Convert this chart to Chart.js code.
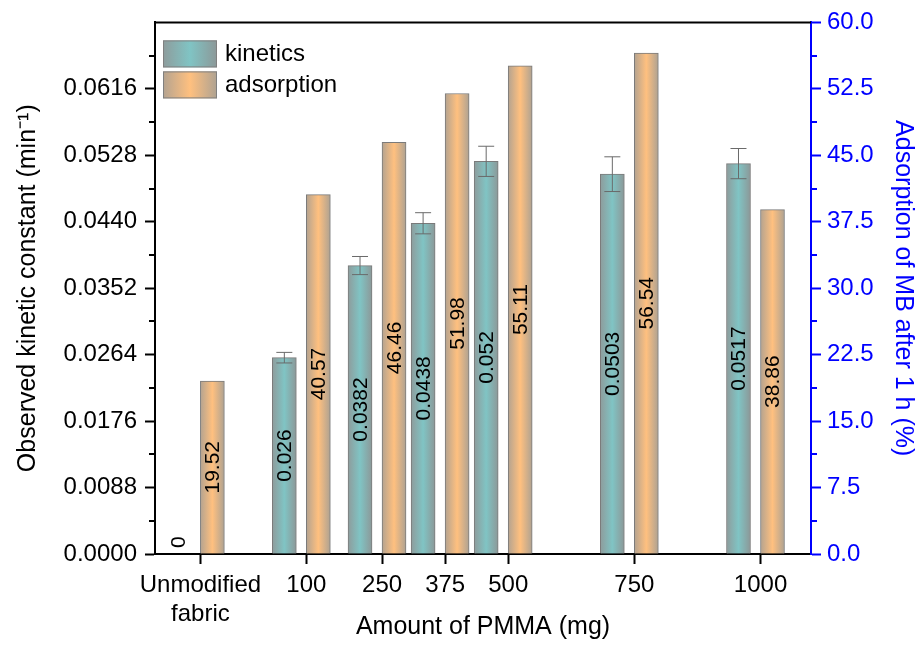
<!DOCTYPE html>
<html>
<head>
<meta charset="utf-8">
<script src="https://cdn.jsdelivr.net/npm/chart.js@4.4.1/dist/chart.umd.min.js"></script>
<style>
  html, body { margin: 0; padding: 0; background: #fff; }
</style>
</head>
<body>
<canvas id="chart" width="924" height="645"></canvas>
<script>
// amounts of PMMA (x positions on the linear axis) and their tick labels
var pmmaPos = [-110, 100, 250, 375, 500, 750, 1000];
var pmmaLabels = [['Unmodified', 'fabric'], '100', '250', '375', '500', '750', '1000'];

// observed kinetic constant (min-1) with error, and adsorption after 1 h (%)
var kinetics = [0, 0.026, 0.0382, 0.0438, 0.052, 0.0503, 0.0517];
var kineticsErr = [0, 0.0007, 0.0012, 0.0014, 0.002, 0.0023, 0.002];
var adsorption = [19.52, 40.57, 46.46, 51.98, 55.11, 56.54, 38.86];

var FONT = "'Liberation Sans', Arial, sans-serif";
var BLUE = '#0000ff';

var kinColors = ['#8e9c9c', '#80c4c4', '#8c9898'];
var adsColors = ['#b4a390', '#ffc07f', '#aea292'];

function toPoints(vals) {
    var pts = [];
    for (var i = 0; i < vals.length; i++) {
        pts.push({ x: pmmaPos[i], y: vals[i] });
    }
    return pts;
}

function gradientFor(ctx, x0, x1, cols) {
    var g = ctx.createLinearGradient(x0, 0, x1, 0);
    g.addColorStop(0, cols[0]);
    g.addColorStop(0.5, cols[1]);
    g.addColorStop(1, cols[2]);
    return g;
}

// horizontal gradient fill on every bar
var barGradient = {
    id: 'barGradient',
    beforeDatasetsDraw: function (chart) {
        var ctx = chart.ctx;
        chart.data.datasets.forEach(function (ds, di) {
            var meta = chart.getDatasetMeta(di);
            meta.data.forEach(function (el) {
                var g = gradientFor(ctx, el.x - el.width / 2, el.x + el.width / 2, ds.gradColors);
                el.options = Object.assign({}, el.options, { backgroundColor: g });
            });
        });
    }
};

// error bars, value labels, minor ticks, frame and legend
var extras = {
    id: 'extras',
    afterDatasetsDraw: function (chart) {
        var ctx = chart.ctx;
        var y = chart.scales.y;

        // error bars on kinetics
        var kMeta = chart.getDatasetMeta(0);
        ctx.save();
        ctx.strokeStyle = '#6a6a6a';
        ctx.lineWidth = 1;
        kMeta.data.forEach(function (el, i) {
            var e = kineticsErr[i];
            if (!e) return;
            var top = y.getPixelForValue(kinetics[i] + e);
            var bot = y.getPixelForValue(kinetics[i] - e);
            ctx.beginPath();
            ctx.moveTo(el.x, top);
            ctx.lineTo(el.x, bot);
            ctx.moveTo(el.x - 8, top);
            ctx.lineTo(el.x + 8, top);
            ctx.moveTo(el.x - 8, bot);
            ctx.lineTo(el.x + 8, bot);
            ctx.stroke();
        });
        ctx.restore();

        // rotated value labels
        ctx.save();
        ctx.font = '21px ' + FONT;
        ctx.fillStyle = '#000';
        ctx.textAlign = 'center';
        ctx.textBaseline = 'middle';
        chart.data.datasets.forEach(function (ds, di) {
            var meta = chart.getDatasetMeta(di);
            meta.data.forEach(function (el, i) {
                var txt = ds.labelText(ds.data[i].y);
                var tw = ctx.measureText(txt).width;
                var h = Math.abs(el.base - el.y);
                var cy = h < tw + 10 ? el.base - 6 - tw / 2 : (el.y + el.base) / 2;
                ctx.save();
                ctx.translate(el.x, cy);
                ctx.rotate(-Math.PI / 2);
                ctx.fillText(txt, 0, 1);
                ctx.restore();
            });
        });
        ctx.restore();
    },
    afterDraw: function (chart) {
        var ctx = chart.ctx;
        var a = chart.chartArea;
        var y = chart.scales.y, y2 = chart.scales.y2;
        ctx.save();

        // top frame
        ctx.strokeStyle = '#000';
        ctx.lineWidth = 2;
        ctx.beginPath();
        ctx.moveTo(a.left - 1, a.top);
        ctx.lineTo(a.right, a.top);
        ctx.stroke();

        // minor ticks
        ctx.beginPath();
        for (var v = 0.0044; v < 0.0704; v += 0.0088) {
            var p = Math.round(y.getPixelForValue(v));
            ctx.moveTo(a.left, p);
            ctx.lineTo(a.left - 6, p);
        }
        ctx.stroke();
        ctx.strokeStyle = BLUE;
        ctx.beginPath();
        for (var w = 3.75; w < 60; w += 7.5) {
            var q = Math.round(y2.getPixelForValue(w));
            ctx.moveTo(a.right, q);
            ctx.lineTo(a.right + 6, q);
        }
        ctx.stroke();

        // legend
        var bx = a.left + 8, by = a.top + 18;
        ctx.font = '24px ' + FONT;
        ctx.textBaseline = 'middle';
        ctx.textAlign = 'left';
        chart.data.datasets.forEach(function (ds, di) {
            var top = by + di * 31;
            ctx.fillStyle = gradientFor(ctx, bx, bx + 54, ds.gradColors);
            ctx.fillRect(bx, top, 54, 27);
            ctx.strokeStyle = '#808080';
            ctx.lineWidth = 1;
            ctx.strokeRect(bx + 0.5, top + 0.5, 53, 26);
            ctx.fillStyle = '#000';
            ctx.fillText(ds.label, bx + 62, top + 14);
        });
        ctx.restore();
    }
};

new Chart(document.getElementById('chart'), {
    type: 'bar',
    data: {
        datasets: [
            {
                label: 'kinetics',
                data: toPoints(kinetics),
                xAxisID: 'xb',
                yAxisID: 'y',
                gradColors: kinColors,
                backgroundColor: kinColors[1],
                labelText: function (v) { return String(v); }
            },
            {
                label: 'adsorption',
                data: toPoints(adsorption),
                xAxisID: 'xb',
                yAxisID: 'y2',
                gradColors: adsColors,
                backgroundColor: adsColors[1],
                labelText: function (v) { return v.toFixed(2); }
            }
        ]
    },
    options: {
        responsive: false,
        animation: false,
        layout: { padding: { top: 22, left: 0, right: 0, bottom: 0 } },
        datasets: {
            bar: {
                barThickness: 34,
                maxBarThickness: 24,
                borderWidth: 1,
                borderColor: '#7a7a7a'
            }
        },
        plugins: {
            legend: { display: false },
            tooltip: { enabled: false }
        },
        scales: {
            xb: {
                type: 'linear',
                display: false,
                offset: false,
                min: -190,
                max: 1110
            },
            x: {
                type: 'linear',
                position: 'bottom',
                offset: false,
                min: -200,
                max: 1100,
                afterBuildTicks: function (s) {
                    s.ticks = pmmaPos.map(function (v) { return { value: v }; });
                },
                afterFit: function (s) { s.height = 91; },
                ticks: {
                    autoSkip: false,
                    maxRotation: 0,
                    padding: 7,
                    color: '#000',
                    font: { family: FONT, size: 24 },
                    callback: function (v) {
                        var i = pmmaPos.indexOf(v);
                        return i < 0 ? '' : pmmaLabels[i];
                    }
                },
                grid: {
                    offset: false,
                    drawOnChartArea: false,
                    tickLength: 10,
                    tickWidth: 2,
                    tickColor: '#000'
                },
                border: { color: '#000', width: 2 },
                title: {
                    display: true,
                    text: 'Amount of PMMA (mg)',
                    color: '#000',
                    font: { family: FONT, size: 25 },
                    padding: { top: 0, bottom: 3 }
                }
            },
            y: {
                type: 'linear',
                position: 'left',
                min: 0,
                max: 0.0704,
                afterFit: function (s) { s.width = 155; },
                ticks: {
                    stepSize: 0.0088,
                    padding: 8,
                    color: '#000',
                    font: { family: FONT, size: 24 },
                    callback: function (v) { return v > 0.07 ? '' : v.toFixed(4); }
                },
                grid: {
                    drawOnChartArea: false,
                    tickLength: 10,
                    tickWidth: 2,
                    tickColor: function (c) {
                        return c.tick && c.tick.value > 0.07 ? 'rgba(0,0,0,0)' : '#000';
                    }
                },
                border: { color: '#000', width: 2 },
                title: {
                    display: true,
                    text: 'Observed kinetic constant (min\u207B\u00B9)',
                    color: '#000',
                    font: { family: FONT, size: 25 },
                    padding: { top: 13, bottom: 0 }
                }
            },
            y2: {
                type: 'linear',
                position: 'right',
                min: 0,
                max: 60,
                afterFit: function (s) { s.width = 113; },
                ticks: {
                    stepSize: 7.5,
                    padding: 6,
                    color: BLUE,
                    font: { family: FONT, size: 24 },
                    callback: function (v) { return v.toFixed(1); }
                },
                grid: {
                    drawOnChartArea: false,
                    tickLength: 10,
                    tickWidth: 2,
                    tickColor: BLUE
                },
                border: { color: BLUE, width: 2 },
                title: {
                    display: true,
                    text: 'Adsorption of MB after 1 h (%)',
                    color: BLUE,
                    font: { family: FONT, size: 25 },
                    padding: { top: 6, bottom: 0 }
                }
            }
        }
    },
    plugins: [barGradient, extras]
});
</script>
</body>
</html>
